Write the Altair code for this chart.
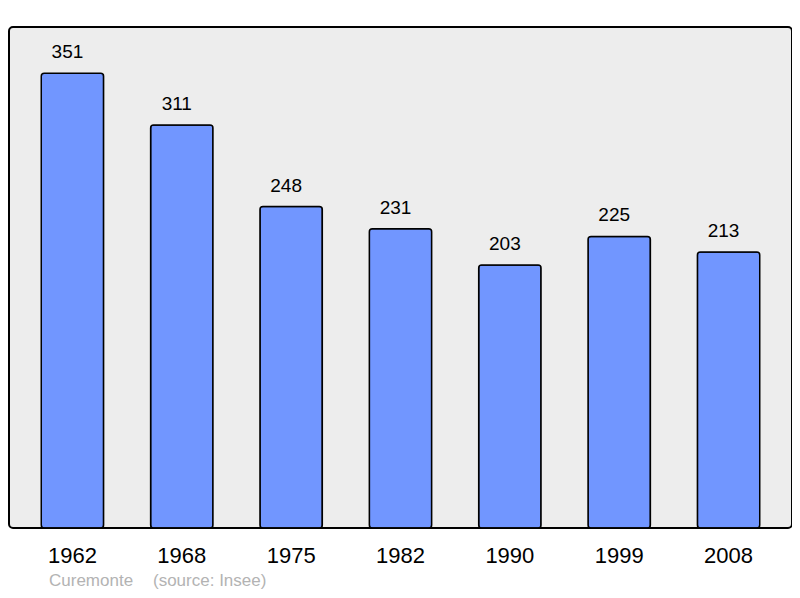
import altair as alt
import pandas as pd

years = ["1962", "1968", "1975", "1982", "1990", "1999", "2008"]
population = [351, 311, 248, 231, 203, 225, 213]
source_texts = ["Curemonte", "(source: Insee)"]
source_x = [40, 144]

df = pd.DataFrame({"year": years, "pop": population})
src = pd.DataFrame({"t": source_texts, "x": source_x})

FONT = "Liberation Sans"

x = alt.X("year:N", sort=years, title=None,
          scale=alt.Scale(paddingInner=0.43, paddingOuter=0.295),
          axis=alt.Axis(labelAngle=0, labelFontSize=22, labelFont=FONT,
                        labelColor="#000000", ticks=False, domain=False,
                        labelPadding=17))
y = alt.Y("pop:Q", title=None, scale=alt.Scale(domain=[0, 386.6], nice=False, zero=True),
          axis=None)

bars = alt.Chart(df).mark_bar(
    color="#7196FF", stroke="#000000", strokeWidth=1.5, cornerRadius=3
).encode(x=x, y=y)

labels = alt.Chart(df).mark_text(
    baseline="alphabetic", dy=-15, dx=-5, fontSize=19, font=FONT, color="#000000"
).encode(x=x, y=y, text="pop:Q")

source = alt.Chart(src).mark_text(
    align="left", baseline="alphabetic", fontSize=17, font=FONT, color="#b3b3b3"
).encode(x=alt.X("x:Q", scale=None), y=alt.value(559), text="t:N")

chart = alt.layer(bars, labels, source).properties(
    width=783, height=501,
    background="#ffffff",
    padding={"left": 1, "top": 19, "right": 0, "bottom": 62},
    autosize=alt.AutoSizeParams(type="none"),
).configure_view(
    stroke="#000000", strokeWidth=2, fill="#ededed", cornerRadius=4
)

chart.save("out.html", embed_options={"renderer": "svg", "actions": False})
